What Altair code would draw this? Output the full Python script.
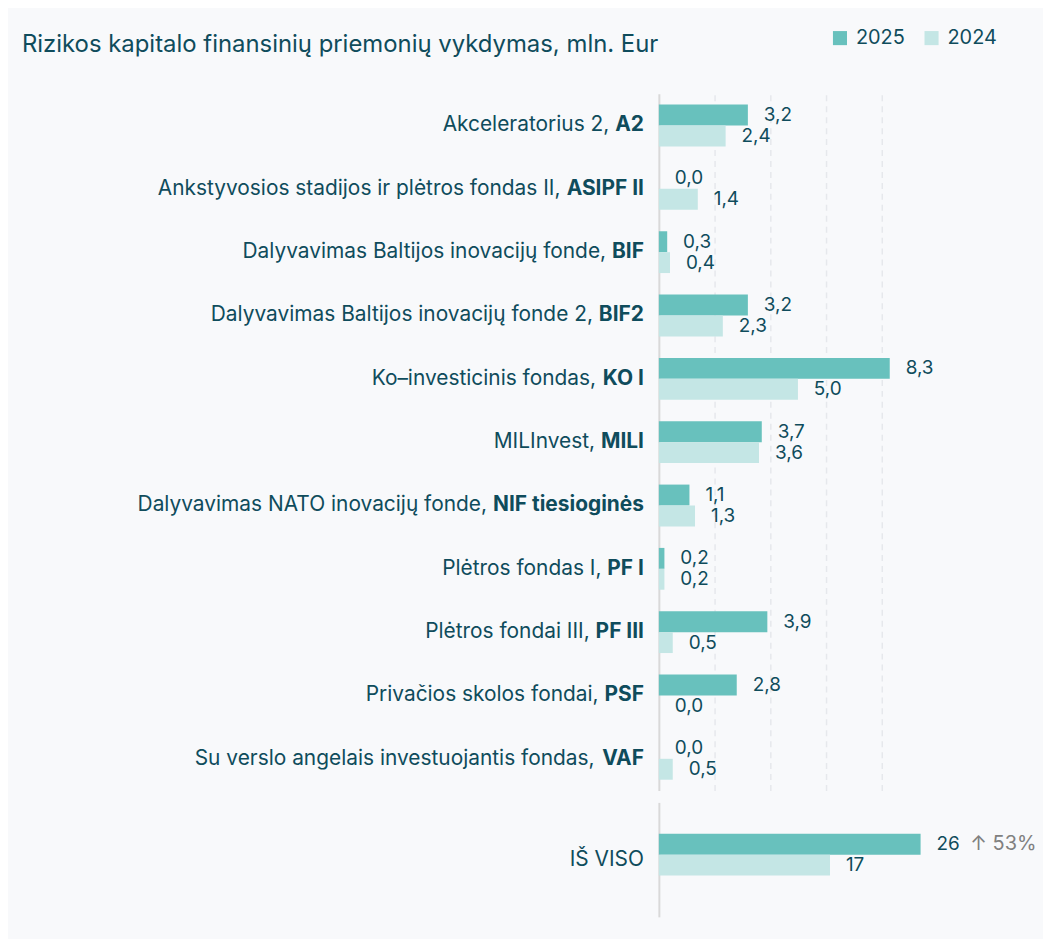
import glob
import os
import struct
import altair as alt
import pandas as pd

TEXT = "#0f4c5c"
C25 = "#68c1bd"
C24 = "#c4e6e5"
BG = "#f8f9fb"
LABEL_SIZE = 21
VALUE_SIZE = 19

title_text = "Rizikos kapitalo finansinių priemonių vykdymas, mln. Eur"
years = ["2025", "2024"]
label_prefix = [
    "Akceleratorius 2,",
    "Ankstyvosios stadijos ir plėtros fondas II,",
    "Dalyvavimas Baltijos inovacijų fonde,",
    "Dalyvavimas Baltijos inovacijų fonde 2,",
    "Ko–investicinis fondas,",
    "MILInvest,",
    "Dalyvavimas NATO inovacijų fonde,",
    "Plėtros fondas I,",
    "Plėtros fondai III,",
    "Privačios skolos fondai,",
    "Su verslo angelais investuojantis fondas,",
]
codes = ["A2", "ASIPF II", "BIF", "BIF2", "KO I", "MILI", "NIF tiesioginės",
         "PF I", "PF III", "PSF", "VAF"]
v2025 = [3.2, 0.0, 0.3, 3.2, 8.3, 3.7, 1.1, 0.2, 3.9, 2.8, 0.0]
v2024 = [2.4, 1.4, 0.4, 2.3, 5.0, 3.6, 1.3, 0.2, 0.5, 0.0, 0.5]
total_label = "IŠ VISO"
total_2025 = 26
total_2024 = 17


# ---- minimal TrueType/OpenType metrics reader (advance widths) ----
class Metrics:
    def __init__(self, path):
        d = open(path, "rb").read()
        off = 0
        if d[:4] == b"ttcf":
            off = struct.unpack(">I", d[12:16])[0]
        n = struct.unpack(">H", d[off + 4:off + 6])[0]
        t = {}
        for i in range(n):
            r = d[off + 12 + 16 * i: off + 28 + 16 * i]
            t[r[:4].decode("latin1")] = struct.unpack(">II", r[8:16])
        self.d = d
        self.upem = struct.unpack(">H", d[t["head"][0] + 18:t["head"][0] + 20])[0]
        nhm = struct.unpack(">H", d[t["hhea"][0] + 34:t["hhea"][0] + 36])[0]
        h = t["hmtx"][0]
        self.adv = [struct.unpack(">H", d[h + 4 * i:h + 4 * i + 2])[0] for i in range(nhm)]
        c = t["cmap"][0]
        nt = struct.unpack(">H", d[c + 2:c + 4])[0]
        self.f4 = None
        self.f12 = None
        for i in range(nt):
            pid, eid, so = struct.unpack(">HHI", d[c + 4 + 8 * i:c + 12 + 8 * i])
            fmt = struct.unpack(">H", d[c + so:c + so + 2])[0]
            if fmt == 12:
                self.f12 = c + so
            elif fmt == 4 and pid in (0, 3):
                self.f4 = c + so

    def gid(self, ch):
        d = self.d
        cp = ord(ch)
        if self.f12 is not None:
            b = self.f12
            ng = struct.unpack(">I", d[b + 12:b + 16])[0]
            for i in range(ng):
                s, e, g = struct.unpack(">III", d[b + 16 + 12 * i:b + 28 + 12 * i])
                if s <= cp <= e:
                    return g + cp - s
            return 0
        b = self.f4
        sc = struct.unpack(">H", d[b + 6:b + 8])[0] // 2
        ends = b + 14
        starts = ends + 2 * sc + 2
        deltas = starts + 2 * sc
        ros = deltas + 2 * sc
        for i in range(sc):
            e = struct.unpack(">H", d[ends + 2 * i:ends + 2 * i + 2])[0]
            if cp <= e:
                s = struct.unpack(">H", d[starts + 2 * i:starts + 2 * i + 2])[0]
                if cp < s:
                    return 0
                dl = struct.unpack(">h", d[deltas + 2 * i:deltas + 2 * i + 2])[0]
                ro = struct.unpack(">H", d[ros + 2 * i:ros + 2 * i + 2])[0]
                if ro == 0:
                    return (cp + dl) & 0xFFFF
                p = ros + 2 * i + ro + 2 * (cp - s)
                g = struct.unpack(">H", d[p:p + 2])[0]
                return (g + dl) & 0xFFFF if g else 0
        return 0

    def width(self, s, size):
        tot = 0
        for ch in s:
            g = self.gid(ch)
            tot += self.adv[min(g, len(self.adv) - 1)]
        return tot * size / self.upem


def find_font(patterns):
    files = []
    for root in ["/usr/share/fonts", "/usr/local/share/fonts",
                 os.path.expanduser("~/.fonts"), os.path.expanduser("~/.local/share/fonts")]:
        files += glob.glob(root + "/**/*.[ot]t[fc]", recursive=True)
    for pat in patterns:
        for f in sorted(files):
            if os.path.basename(f).lower() == pat.lower():
                return f
    return None


FAMILIES = [
    ("Inter", ["Inter-Regular.ttf", "Inter-Regular.otf"], ["Inter-Bold.ttf", "Inter-Bold.otf"]),
    ("Noto Sans", ["NotoSans-Regular.ttf"], ["NotoSans-Bold.ttf"]),
    ("Open Sans", ["OpenSans-Regular.ttf"], ["OpenSans-Bold.ttf"]),
    ("Roboto", ["Roboto-Regular.ttf"], ["Roboto-Bold.ttf"]),
]
FONT = "Inter"
m_reg = m_bold = None
for fam, regs, bolds in FAMILIES:
    r = find_font(regs)
    b = find_font(bolds)
    if r and b:
        try:
            m_reg, m_bold = Metrics(r), Metrics(b)
            FONT = fam
            break
        except Exception:
            m_reg = m_bold = None


def text_width(s, bold, size):
    m = m_bold if bold else m_reg
    if m is not None:
        return m.width(s, size)
    w = 0.0
    for ch in s:
        if ch == " ":
            w += 0.27
        elif ch.isupper():
            w += 0.72 if bold else 0.68
        elif ch in "il.,j":
            w += 0.28
        else:
            w += 0.62 if bold else 0.56
    return w * size


def fmt(v):
    return f"{v:.1f}".replace(".", ",")


rows = []
for c, a, b in zip(codes, v2025, v2024):
    rows.append({"cat": c, "year": "2025", "value": a, "label": fmt(a)})
    rows.append({"cat": c, "year": "2024", "value": b, "label": fmt(b)})
df = pd.DataFrame(rows)

GAP = 15
VGAP = 16
SPACE = text_width(" ", False, LABEL_SIZE)
lab = pd.DataFrame({"cat": codes, "prefix": label_prefix, "code": codes})
lab["px"] = [-GAP - text_width(c, True, LABEL_SIZE) - SPACE for c in codes]

tot = pd.DataFrame({
    "cat": [total_label, total_label],
    "year": ["2025", "2024"],
    "value": [total_2025, total_2024],
    "label": [str(total_2025), str(total_2024)],
})
pct = round((total_2025 / total_2024 - 1) * 100)
tot_pct = pd.DataFrame({"cat": [total_label], "year": ["2025"], "value": [total_2025],
                        "label": [f"↑ {pct}%"]})

color = alt.Color("year:N", scale=alt.Scale(domain=years, range=[C25, C24]),
                  legend=alt.Legend(title=None, orient="none", legendX=172, legendY=-66,
                                    direction="horizontal", symbolType="square",
                                    symbolSize=200, symbolStrokeWidth=0,
                                    labelFontSize=20, labelColor=TEXT, labelFont=FONT,
                                    columnPadding=16, labelOffset=6))

yaxis = alt.Axis(labels=False, ticks=False, title=None, grid=False,
                 domainColor="#d9d9d9", domainWidth=2)

y_top = alt.Y("cat:N", sort=codes, axis=yaxis,
              scale=alt.Scale(paddingInner=0.34, paddingOuter=0.17))
x_top = alt.X("value:Q", scale=alt.Scale(domain=[0, 8.3], nice=False),
              axis=alt.Axis(values=[2, 4, 6, 8], grid=True, gridDash=[6, 5],
                            gridColor="#e6e8ec", gridWidth=1.5, labels=False,
                            ticks=False, domain=False, title=None))
yoff = alt.YOffset("year:N", sort=years)

base_top = alt.Chart(df)
bars_top = base_top.mark_bar().encode(y=y_top, x=x_top, yOffset=yoff, color=color)
vals_top = base_top.mark_text(align="left", dx=VGAP, fontSize=VALUE_SIZE, font=FONT,
                              color=TEXT).encode(y=y_top, x=x_top, yOffset=yoff,
                                                 text="label:N")
lab_base = alt.Chart(lab)
bold_lab = lab_base.mark_text(align="right", fontSize=LABEL_SIZE, font=FONT,
                              fontWeight="bold", color=TEXT).encode(
    y=alt.Y("cat:N", sort=codes), x=alt.value(-GAP), text="code:N")
norm_lab = lab_base.mark_text(align="right", fontSize=LABEL_SIZE, font=FONT,
                              color=TEXT).encode(
    y=alt.Y("cat:N", sort=codes), x=alt.X("px:Q", scale=None, axis=None),
    text="prefix:N")
title_df = pd.DataFrame({"t": [title_text]})
title_mark = alt.Chart(title_df).mark_text(align="left", baseline="alphabetic",
                                           fontSize=24, font=FONT, color=TEXT).encode(
    x=alt.value(-640), y=alt.value(-42), text="t:N")

top = alt.layer(bars_top, vals_top, bold_lab, norm_lab, title_mark).properties(
    width=232, height=700)

y_bot = alt.Y("cat:N", axis=yaxis, scale=alt.Scale(paddingInner=0.34, paddingOuter=0.4))
x_bot = alt.X("value:Q", scale=alt.Scale(domain=[0, total_2025], nice=False), axis=None)
bars_bot = alt.Chart(tot).mark_bar().encode(
    y=y_bot, x=x_bot, yOffset=yoff,
    color=alt.Color("year:N", scale=alt.Scale(domain=years, range=[C25, C24]), legend=None))
vals_bot = alt.Chart(tot).mark_text(align="left", dx=VGAP, fontSize=VALUE_SIZE, font=FONT,
                                    color=TEXT).encode(y=y_bot, x=x_bot, yOffset=yoff,
                                                       text="label:N")
pct_bot = alt.Chart(tot_pct).mark_text(align="left", dx=50, fontSize=20,
                                       font=FONT, color="#808080").encode(
    y=y_bot, x=x_bot, yOffset=yoff, text="label:N")
tot_lab = alt.Chart(tot_pct).mark_text(align="right", fontSize=LABEL_SIZE, font=FONT,
                                       color=TEXT).encode(
    y=alt.Y("cat:N"), x=alt.value(-GAP), text="cat:N")

bottom = alt.layer(bars_bot, vals_bot, pct_bot, tot_lab).properties(width=263, height=115)

chart = alt.vconcat(top, bottom, spacing=12, bounds="flush").configure(
    background=BG,
    padding={"left": 14, "top": 18, "right": 6, "bottom": 20},
).configure_view(stroke=None)

chart.save("out.html", embed_options={"renderer": "svg", "actions": False})
